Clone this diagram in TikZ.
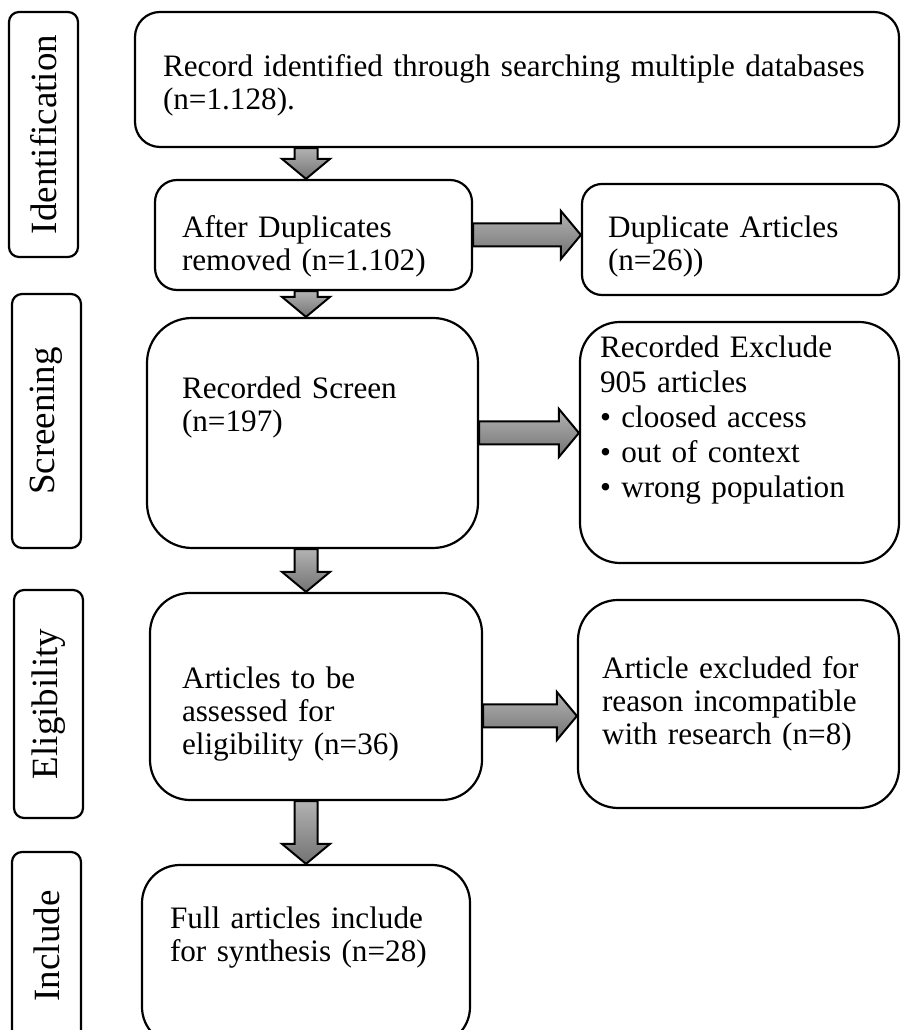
\documentclass[tikz,border=0pt]{standalone}
\usepackage{fontspec}
\setmainfont{Liberation Serif}
\usetikzlibrary{calc}

\begin{document}
\begin{tikzpicture}[line join=miter,
	phase/.style={draw,line width=2.2bp,rounded corners=10bp,rotate=90,minimum height=69bp,inner sep=0pt,font=\fontsize{37bp}{40bp}\selectfont},
	stage/.style={draw,line width=2.2bp,align=left,inner ysep=0pt,text height=20bp,font=\fontsize{31.2bp}{33bp}\selectfont},
	blockarrow/.style={draw,line width=2bp,top color=black!30,bottom color=black!55,
		to path={($(\tikztostart)!11.5bp!90:(\tikztotarget)$)
			-- ($($(\tikztotarget)!20bp!(\tikztostart)$)!11.5bp!-90:(\tikztostart)$)
			-- ($($(\tikztotarget)!20bp!(\tikztostart)$)!24bp!-90:(\tikztostart)$)
			-- (\tikztotarget)
			-- ($($(\tikztotarget)!20bp!(\tikztostart)$)!24bp!90:(\tikztostart)$)
			-- ($($(\tikztotarget)!20bp!(\tikztostart)$)!11.5bp!90:(\tikztostart)$)
			-- ($(\tikztostart)!11.5bp!-90:(\tikztotarget)$) -- cycle}},
]
	\useasboundingbox (0,0) rectangle (902bp,1030bp);
	%% phases
	\node (ident) at (43.5bp,895.5bp) [phase,minimum width=245bp] {Identification};
	\node (screen) at (46.5bp,609bp) [phase,minimum width=254bp] {Screening};
	\node (elig) at (48.5bp,326bp) [phase,minimum width=228bp] {Eligibility};
	\node (incl) at (46.5bp,84bp) [phase,minimum width=188bp] {Include};

	%% boxes
	\node (rec) at (517bp,950.5bp) [stage,rounded corners=25bp,minimum width=764bp,minimum height=135bp,inner xsep=28bp,text width=708bp,text depth=25bp]
		{\mbox{Record identified through searching multiple databases}\\(n=1.128).};
	\node (aft) at (313.5bp,795bp) [stage,rounded corners=22bp,minimum width=317bp,minimum height=110bp,inner xsep=27bp,text width=263bp,text depth=14bp]
		{After Duplicates\\removed (n=1.102)};
	\node (dup) at (740.5bp,790.5bp) [stage,rounded corners=20bp,minimum width=317bp,minimum height=111bp,inner xsep=26bp,text width=265bp,text depth=23bp]
		{Duplicate Articles\\(n=26))};
	\node (scr) at (312.5bp,597bp) [stage,rounded corners=45bp,minimum width=331bp,minimum height=230bp,inner xsep=35bp,text width=261bp,text depth=88bp]
		{Recorded Screen\\(n=197)};
	\node (exc) at (739.5bp,587.5bp) [stage,rounded corners=40bp,minimum width=319bp,minimum height=241bp,inner xsep=20bp,text width=279bp,text depth=189bp,font=\fontsize{31.2bp}{35bp}\selectfont]
		{Recorded Exclude\\905 articles\\• cloosed access\\• out of context\\• wrong population};
	\node (art) at (316bp,333.5bp) [stage,rounded corners=40bp,minimum width=332bp,minimum height=207bp,inner xsep=32bp,text width=268bp,text depth=35bp]
		{Articles to be\\assessed for\\eligibility (n=36)};
	\node (rej) at (738.5bp,326bp) [stage,rounded corners=40bp,minimum width=321bp,minimum height=208bp,inner xsep=24bp,text width=273bp,text height=21.6bp,text depth=73bp]
		{Article excluded for\\reason incompatible\\with research (n=8)};
	\node (full) at (306bp,75bp) [stage,rounded corners=38bp,minimum width=328bp,minimum height=180bp,inner xsep=28bp,text width=272bp,text depth=72bp]
		{Full articles include\\for synthesis (n=28)};

	%% arrows
	\coordinate (mid) at (306bp,0bp);
	\draw [blockarrow] (mid |- rec.south) to (mid |- aft.north);
	\draw [blockarrow] (mid |- aft.south) to (mid |- scr.north);
	\draw [blockarrow] (mid |- scr.south) to (mid |- art.north);
	\draw [blockarrow] (mid |- art.south) to (mid |- full.north);

	\draw [blockarrow] (aft.east) to (aft.east -| dup.west);
	\draw [blockarrow] (scr.east) to (scr.east -| exc.west);
	\coordinate (artout) at ([yshift=-19.5bp]art.east);
	\draw [blockarrow] (artout) to (artout -| rej.west);
	%
\end{tikzpicture}
\end{document}
